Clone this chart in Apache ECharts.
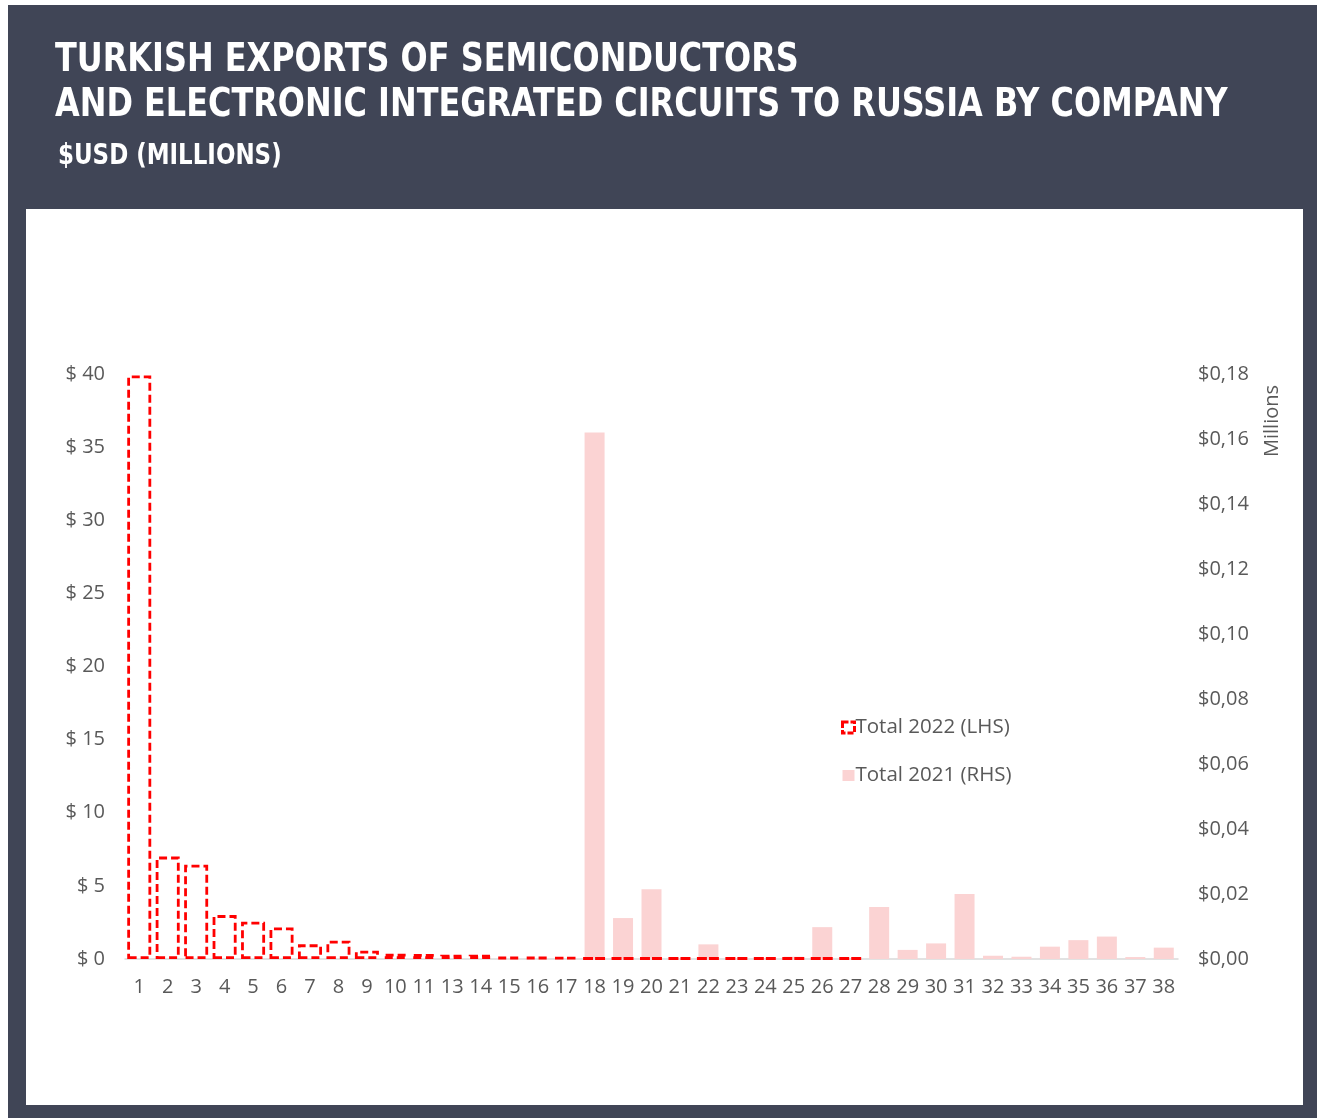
<!DOCTYPE html>
<html>
<head>
<meta charset="utf-8">
<script src="https://cdn.jsdelivr.net/npm/echarts@6/dist/echarts.min.js"></script>
<style>
html,body{margin:0;padding:0;background:#ffffff;}
#chart{width:1317px;height:1118px;}
</style>
</head>
<body>
<div id="chart"></div>
<script>
// Company ranks (12 is absent in the source)
const categories = ['1','2','3','4','5','6','7','8','9','10','11','13','14','15','16','17','18','19','20','21','22','23','24','25','26','27','28','29','30','31','32','33','34','35','36','37','38'];
// Total 2022 (LHS), USD millions
const total2022 = [39.9, 7.0, 6.45, 3.0, 2.55, 2.15, 1.0, 1.25, 0.57, 0.36, 0.34, 0.29, 0.29, 0.14, 0.14, 0.12, 0.07, 0.07, 0.07, 0.07, 0.07, 0.07, 0.07, 0.07, 0.07, 0.07, null, null, null, null, null, null, null, null, null, null, null];
// Total 2021 (RHS), USD millions
const total2021 = [0, 0, 0, 0, 0, 0, 0, 0, 0, 0, 0, 0, 0, 0, 0, 0, 0.162, 0.0126, 0.0215, 0.0003, 0.0045, 0.0003, 0.0003, 0.0007, 0.0098, 0.0003, 0.016, 0.0028, 0.0048, 0.020, 0.001, 0.0007, 0.0038, 0.0058, 0.0069, 0.0006, 0.0035];
const leftTicks = {min: 0, max: 40, interval: 5};
const rightTicks = {min: 0, max: 0.18, interval: 0.02};
const titleLines = ['TURKISH EXPORTS OF SEMICONDUCTORS', 'AND ELECTRONIC INTEGRATED CIRCUITS TO RUSSIA BY COMPANY'];
const subtitleText = '$USD (MILLIONS)';

const chart = echarts.init(document.getElementById('chart'), null, {renderer: 'canvas'});
const labelFont = '"Open Sans", "Noto Sans", sans-serif';
const titleFont = '"DejaVu Sans Condensed", "DejaVu Sans", sans-serif';
const gray = '#595959';

function titleText(text, x, y, size, sx) {
  return {type: 'text', z: 5, x: x, y: y, scaleX: sx, scaleY: 1,
    style: {text: text, font: 'bold ' + size + 'px ' + titleFont, fill: '#ffffff', align: 'left', verticalAlign: 'middle'}};
}

chart.setOption({
  backgroundColor: '#ffffff',
  animation: false,
  graphic: [
    {type: 'rect', z: -10, shape: {x: 8, y: 5, width: 1309, height: 1113}, style: {fill: '#404556'}},
    {type: 'rect', z: -9, shape: {x: 26, y: 209, width: 1277, height: 896}, style: {fill: '#ffffff'}},
    titleText(titleLines[0], 55, 61, 39, 0.91),
    titleText(titleLines[1], 55, 106, 39, 0.91),
    titleText(subtitleText, 58, 156, 29, 0.88),
    {type: 'text', z: 5, x: 1262, y: 421, rotation: Math.PI / 2,
      style: {text: 'Millions', font: '20px ' + labelFont, fill: gray, align: 'center', verticalAlign: 'top'}}
  ],
  legend: {
    orient: 'vertical', left: 836, top: 712, itemGap: 27,
    itemWidth: 12, itemHeight: 11,
    textStyle: {color: gray, fontFamily: labelFont, fontSize: 20.5, padding: [0, 0, 0, -4]},
    data: [
      {name: 'Total 2022 (LHS)', icon: 'rect', itemStyle: {color: '#ffffff', borderColor: '#ff0000', borderWidth: 3, borderType: [6, 2]}},
      {name: 'Total 2021 (RHS)', icon: 'rect', itemStyle: {color: '#fbd3d3', borderWidth: 0}}
    ]
  },
  grid: {left: 125, right: 139, top: 374, bottom: 159, containLabel: false},
  xAxis: [
    {type: 'category', data: categories, boundaryGap: true,
      axisLine: {show: true, lineStyle: {color: '#d9d9d9', width: 1.5}},
      axisTick: {show: false},
      axisLabel: {color: gray, fontFamily: labelFont, fontSize: 20, margin: 18, interval: 0}},
    {type: 'category', data: categories, show: false}
  ],
  yAxis: [
    {type: 'value', min: leftTicks.min, max: leftTicks.max, interval: leftTicks.interval,
      splitLine: {show: false}, axisLine: {show: false}, axisTick: {show: false},
      axisLabel: {color: gray, fontFamily: labelFont, fontSize: 20, margin: 20,
        formatter: v => '$ ' + v}},
    {type: 'value', min: rightTicks.min, max: rightTicks.max, interval: rightTicks.interval,
      splitLine: {show: false}, axisLine: {show: false}, axisTick: {show: false},
      axisLabel: {color: gray, fontFamily: labelFont, fontSize: 20, margin: 20,
        formatter: v => '$' + v.toFixed(2).replace('.', ',')}}
  ],
  series: [
    {name: 'Total 2021 (RHS)', type: 'bar', xAxisIndex: 1, yAxisIndex: 1, data: total2021,
      barWidth: 20, z: 1,
      itemStyle: {color: '#fbd3d3'}},
    {name: 'Total 2022 (LHS)', type: 'bar', xAxisIndex: 0, yAxisIndex: 0, data: total2022,
      barWidth: 24, z: 3,
      itemStyle: {color: 'rgba(255,255,255,0)', borderColor: '#ff0000', borderWidth: 2.8, borderType: [8, 4]}}
  ]
});
</script>
</body>
</html>
